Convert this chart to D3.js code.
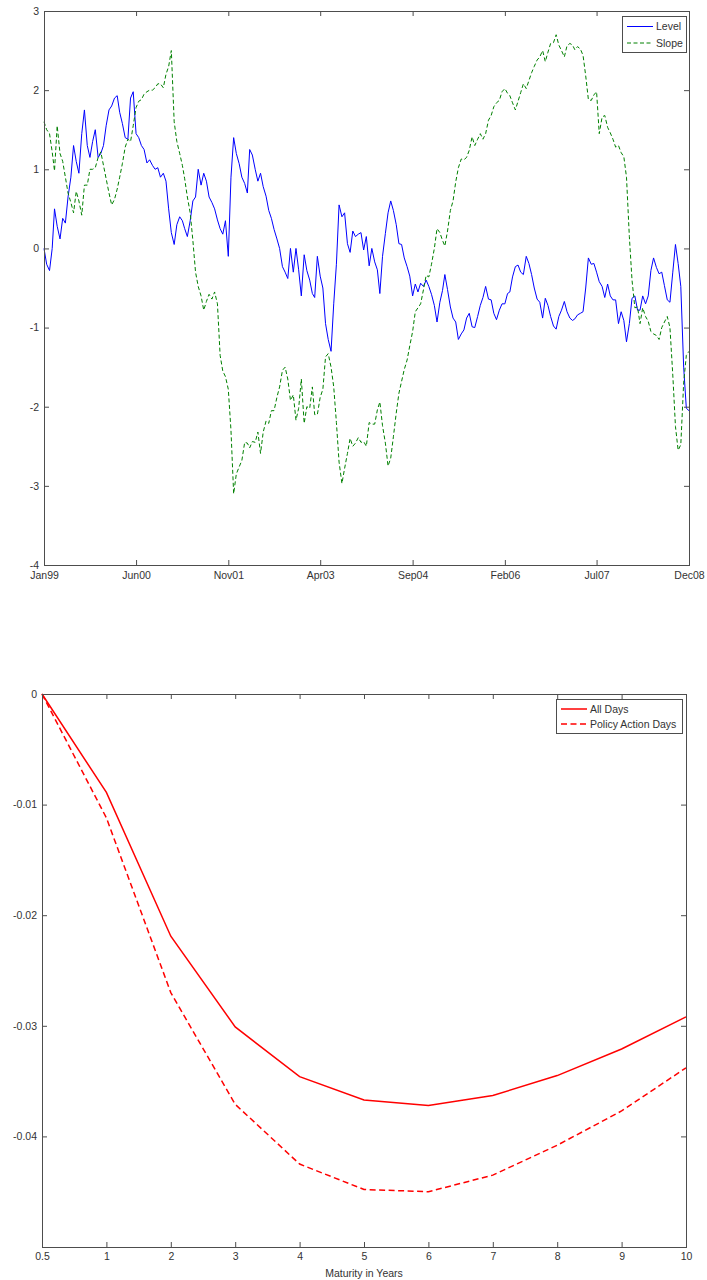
<!DOCTYPE html>
<html>
<head>
<meta charset="utf-8">
<script src="https://cdnjs.cloudflare.com/ajax/libs/d3/7.8.5/d3.min.js"></script>
<style>
  body { margin: 0; background: #fff; }
  svg { display: block; }
  text { font-family: "Liberation Sans", Arial, sans-serif; font-size: 10.5px; fill: #333; }
</style>
</head>
<body>
<svg id="fig" width="707" height="1280"></svg>
<script>
// ---- top panel: factor series, sampled twice a month ----
var dates = [
  "1999-01-01","1999-01-16","1999-02-01","1999-02-16","1999-03-01","1999-03-16","1999-04-01","1999-04-16","1999-05-01","1999-05-16","1999-06-01","1999-06-16","1999-07-01","1999-07-16","1999-08-01","1999-08-16","1999-09-01","1999-09-16","1999-10-01","1999-10-16","1999-11-01","1999-11-16","1999-12-01","1999-12-16",
  "2000-01-01","2000-01-16","2000-02-01","2000-02-16","2000-03-01","2000-03-16","2000-04-01","2000-04-16","2000-05-01","2000-05-16","2000-06-01","2000-06-16","2000-07-01","2000-07-16","2000-08-01","2000-08-16","2000-09-01","2000-09-16","2000-10-01","2000-10-16","2000-11-01","2000-11-16","2000-12-01","2000-12-16",
  "2001-01-01","2001-01-16","2001-02-01","2001-02-16","2001-03-01","2001-03-16","2001-04-01","2001-04-16","2001-05-01","2001-05-16","2001-06-01","2001-06-16","2001-07-01","2001-07-16","2001-08-01","2001-08-16","2001-09-01","2001-09-16","2001-10-01","2001-10-16","2001-11-01","2001-11-16","2001-12-01","2001-12-16",
  "2002-01-01","2002-01-16","2002-02-01","2002-02-16","2002-03-01","2002-03-16","2002-04-01","2002-04-16","2002-05-01","2002-05-16","2002-06-01","2002-06-16","2002-07-01","2002-07-16","2002-08-01","2002-08-16","2002-09-01","2002-09-16","2002-10-01","2002-10-16","2002-11-01","2002-11-16","2002-12-01","2002-12-16",
  "2003-01-01","2003-01-16","2003-02-01","2003-02-16","2003-03-01","2003-03-16","2003-04-01","2003-04-16","2003-05-01","2003-05-16","2003-06-01","2003-06-16","2003-07-01","2003-07-16","2003-08-01","2003-08-16","2003-09-01","2003-09-16","2003-10-01","2003-10-16","2003-11-01","2003-11-16","2003-12-01","2003-12-16",
  "2004-01-01","2004-01-16","2004-02-01","2004-02-16","2004-03-01","2004-03-16","2004-04-01","2004-04-16","2004-05-01","2004-05-16","2004-06-01","2004-06-16","2004-07-01","2004-07-16","2004-08-01","2004-08-16","2004-09-01","2004-09-16","2004-10-01","2004-10-16","2004-11-01","2004-11-16","2004-12-01","2004-12-16",
  "2005-01-01","2005-01-16","2005-02-01","2005-02-16","2005-03-01","2005-03-16","2005-04-01","2005-04-16","2005-05-01","2005-05-16","2005-06-01","2005-06-16","2005-07-01","2005-07-16","2005-08-01","2005-08-16","2005-09-01","2005-09-16","2005-10-01","2005-10-16","2005-11-01","2005-11-16","2005-12-01","2005-12-16",
  "2006-01-01","2006-01-16","2006-02-01","2006-02-16","2006-03-01","2006-03-16","2006-04-01","2006-04-16","2006-05-01","2006-05-16","2006-06-01","2006-06-16","2006-07-01","2006-07-16","2006-08-01","2006-08-16","2006-09-01","2006-09-16","2006-10-01","2006-10-16","2006-11-01","2006-11-16","2006-12-01","2006-12-16",
  "2007-01-01","2007-01-16","2007-02-01","2007-02-16","2007-03-01","2007-03-16","2007-04-01","2007-04-16","2007-05-01","2007-05-16","2007-06-01","2007-06-16","2007-07-01","2007-07-16","2007-08-01","2007-08-16","2007-09-01","2007-09-16","2007-10-01","2007-10-16","2007-11-01","2007-11-16","2007-12-01","2007-12-16",
  "2008-01-01","2008-01-16","2008-02-01","2008-02-16","2008-03-01","2008-03-16","2008-04-01","2008-04-16","2008-05-01","2008-05-16","2008-06-01","2008-06-16","2008-07-01","2008-07-16","2008-08-01","2008-08-16","2008-09-01","2008-09-16","2008-10-01","2008-10-16","2008-11-01","2008-11-16","2008-12-01"
];

var level = [
  0.0,-0.2,-0.28,0.0,0.5,0.28,0.12,0.38,0.32,0.65,0.9,1.3,1.1,0.95,1.45,1.75,1.3,1.15,1.35,1.5,1.15,1.2,1.3,1.55,
  1.75,1.8,1.9,1.93,1.72,1.58,1.4,1.38,1.9,1.98,1.45,1.4,1.3,1.25,1.08,1.12,1.05,1.0,1.02,0.9,0.95,0.85,0.5,0.2,
  0.05,0.3,0.4,0.35,0.25,0.15,0.35,0.6,0.65,1.0,0.8,0.95,0.85,0.65,0.58,0.5,0.36,0.25,0.18,0.35,-0.1,0.9,1.4,1.2,
  1.07,0.9,0.82,0.7,1.25,1.18,1.0,0.85,0.95,0.78,0.66,0.48,0.38,0.24,0.12,0.0,-0.23,-0.3,-0.38,0.0,-0.3,0.0,-0.27,-0.6,
  -0.08,-0.28,-0.4,-0.57,-0.62,-0.1,-0.35,-0.5,-0.95,-1.15,-1.3,-0.7,-0.2,0.55,0.4,0.45,0.06,-0.05,0.22,0.15,0.18,0.2,-0.02,0.15,
  -0.22,0.0,-0.17,-0.27,-0.57,-0.1,0.19,0.45,0.6,0.48,0.3,0.06,0.05,-0.12,-0.23,-0.35,-0.6,-0.45,-0.55,-0.44,-0.48,-0.4,-0.48,-0.58,
  -0.72,-0.93,-0.68,-0.53,-0.33,-0.52,-0.74,-0.88,-0.93,-1.15,-1.08,-1.03,-0.88,-0.82,-0.99,-1.0,-0.86,-0.72,-0.62,-0.48,-0.64,-0.65,-0.82,-0.9,
  -0.78,-0.7,-0.7,-0.57,-0.55,-0.36,-0.23,-0.21,-0.3,-0.33,-0.1,-0.19,-0.33,-0.5,-0.64,-0.68,-0.88,-0.63,-0.72,-0.86,-0.98,-1.02,-0.86,-0.78,
  -0.67,-0.8,-0.88,-0.91,-0.89,-0.84,-0.82,-0.8,-0.5,-0.12,-0.2,-0.19,-0.3,-0.42,-0.48,-0.62,-0.45,-0.6,-0.65,-0.65,-0.95,-0.8,-0.91,-1.18,
  -0.95,-0.63,-0.6,-0.78,-0.78,-0.6,-0.7,-0.6,-0.28,-0.12,-0.24,-0.32,-0.3,-0.47,-0.65,-0.68,-0.3,0.05,-0.19,-0.48,-1.5,-2.02,-2.05
];

var slope = [
  1.6,1.5,1.45,1.22,0.98,1.55,1.2,1.1,0.9,0.7,0.58,0.45,0.72,0.6,0.42,0.8,0.8,1.0,1.0,1.02,1.15,1.22,1.05,0.88,
  0.7,0.55,0.62,0.75,0.9,1.07,1.28,1.38,1.35,1.55,1.78,1.86,1.88,1.95,1.98,2.0,2.0,2.03,2.08,2.08,2.03,2.2,2.3,2.5,
  1.6,1.35,1.2,1.05,0.88,0.65,0.45,0.1,-0.3,-0.48,-0.6,-0.78,-0.67,-0.58,-0.64,-0.55,-0.7,-1.35,-1.55,-1.62,-1.78,-2.3,-3.1,-2.85,
  -2.76,-2.68,-2.45,-2.46,-2.52,-2.44,-2.45,-2.32,-2.59,-2.32,-2.18,-2.21,-2.05,-2.05,-1.88,-1.75,-1.54,-1.5,-1.65,-1.92,-1.85,-2.17,-2.02,-1.65,
  -2.21,-2.0,-2.02,-1.75,-2.1,-2.1,-1.88,-1.78,-1.37,-1.33,-1.5,-1.75,-2.2,-2.7,-2.97,-2.78,-2.59,-2.4,-2.5,-2.46,-2.39,-2.45,-2.44,-2.5,
  -2.2,-2.22,-2.22,-2.04,-1.94,-2.24,-2.46,-2.75,-2.65,-2.38,-2.08,-1.83,-1.68,-1.53,-1.41,-1.23,-1.05,-0.8,-0.75,-0.7,-0.52,-0.34,-0.36,-0.2,
  0.0,0.25,0.2,0.1,0.03,0.22,0.48,0.6,0.84,1.02,1.13,1.12,1.15,1.24,1.41,1.3,1.38,1.45,1.38,1.45,1.62,1.68,1.79,1.84,
  1.87,1.98,2.02,1.96,1.93,1.84,1.75,1.86,1.97,2.08,2.02,2.12,2.22,2.3,2.38,2.42,2.5,2.36,2.48,2.59,2.6,2.7,2.57,2.5,
  2.42,2.56,2.59,2.57,2.51,2.55,2.52,2.44,2.18,1.88,1.87,1.94,1.98,1.45,1.66,1.68,1.53,1.46,1.38,1.28,1.3,1.21,1.16,0.9,
  0.15,-0.4,-0.75,-0.74,-0.95,-0.75,-0.86,-0.92,-1.05,-1.08,-1.1,-1.15,-1.0,-0.93,-0.86,-1.0,-1.6,-2.25,-2.55,-2.48,-1.7,-1.35,-1.3
];

var dateTicks = ["1999-01-01","2000-06-01","2001-11-01","2003-04-01","2004-09-01","2006-02-01","2007-07-01","2008-12-01"];
var factorTicks = [-4,-3,-2,-1,0,1,2,3];

// ---- bottom panel: yield response by maturity ----
var maturities = [0.5,1,2,3,4,5,6,7,8,9,10];
var allDays    = [0,-0.0089,-0.0219,-0.0301,-0.0346,-0.0367,-0.0372,-0.0363,-0.0345,-0.0321,-0.0292];
var policyDays = [0,-0.0112,-0.0270,-0.0371,-0.0425,-0.0448,-0.0450,-0.0435,-0.0408,-0.0377,-0.0338];
var responseTicks = [0,-0.01,-0.02,-0.03,-0.04];

var svg = d3.select('#fig'),
    TICK = 5,
    frameColor = '#4d4d4d',
    parse = d3.timeParse('%Y-%m-%d')

// box with inward ticks on all four sides, like a matlab axes
function drawFrame(g, x, y, box, xticks, yticks, xfmt, xpad) {
    g.append('g')
        .attr('transform', 'translate(0,' + box.bottom + ')')
        .call(d3.axisBottom(x).tickValues(xticks).tickFormat(xfmt)
            .tickSizeInner(-TICK).tickSizeOuter(0).tickPadding(xpad))
    g.append('g')
        .attr('transform', 'translate(0,' + box.top + ')')
        .call(d3.axisTop(x).tickValues(xticks).tickFormat('')
            .tickSizeInner(-TICK).tickSizeOuter(0))
    g.append('g')
        .attr('transform', 'translate(' + box.left + ',0)')
        .call(d3.axisLeft(y).tickValues(yticks).tickFormat(d => String(d))
            .tickSizeInner(-TICK).tickSizeOuter(0).tickPadding(5))
    g.append('g')
        .attr('transform', 'translate(' + box.right + ',0)')
        .call(d3.axisRight(y).tickValues(yticks).tickFormat('')
            .tickSizeInner(-TICK).tickSizeOuter(0))

    g.selectAll('.domain').remove()
    g.selectAll('.tick line').attr('stroke', frameColor)

    g.append('rect')
        .attr('x', box.left + 0.5)
        .attr('y', box.top + 0.5)
        .attr('width', box.right - box.left)
        .attr('height', box.bottom - box.top)
        .attr('fill', 'none')
        .attr('stroke', frameColor)
}

function drawLegend(g, box, items) {
    var lg = g.append('g').attr('transform', 'translate(' + box.x + ',' + box.y + ')')
    lg.append('rect')
        .attr('x', 0.5).attr('y', 0.5)
        .attr('width', box.w).attr('height', box.h)
        .attr('fill', '#fff')
        .attr('stroke', frameColor)
    items.forEach((it, i) => {
        var cy = box.pad + i * box.step
        lg.append('line')
            .attr('x1', 5).attr('x2', 5 + box.sample)
            .attr('y1', cy).attr('y2', cy)
            .attr('stroke', it.color)
            .attr('stroke-width', it.width)
            .attr('stroke-dasharray', it.dash)
        lg.append('text')
            .attr('x', 8 + box.sample)
            .attr('y', cy)
            .attr('dy', '0.35em')
            .text(it.label)
    })
}

// ---------- top chart ----------
var topBox = { left: 44, right: 689, top: 11, bottom: 565 }
var topSeries = dates.map((d, i) => ({ date: parse(d), level: level[i], slope: slope[i] }))

var xTime = d3.scaleTime()
    .domain([parse(dates[0]), parse(dates[dates.length - 1])])
    .range([topBox.left, topBox.right])
var yFactor = d3.scaleLinear().domain([-4, 3]).range([topBox.bottom, topBox.top])

var topChart = svg.append('g').attr('id', 'factors')

topChart.append('path')
    .datum(topSeries)
    .attr('fill', 'none')
    .attr('stroke', '#0000ff')
    .attr('stroke-width', 1)
    .attr('d', d3.line().x(d => xTime(d.date)).y(d => yFactor(d.level)))

topChart.append('path')
    .datum(topSeries)
    .attr('fill', 'none')
    .attr('stroke', '#008000')
    .attr('stroke-width', 1)
    .attr('stroke-dasharray', '4,2.5')
    .attr('d', d3.line().x(d => xTime(d.date)).y(d => yFactor(d.slope)))

drawFrame(topChart, xTime, yFactor, topBox, dateTicks.map(parse), factorTicks, d3.timeFormat('%b%y'), 7)

drawLegend(topChart, { x: 622, y: 16, w: 64, h: 36, pad: 10.5, step: 16.5, sample: 26 }, [
    { label: 'Level', color: '#0000ff', width: 1, dash: null },
    { label: 'Slope', color: '#008000', width: 1, dash: '4,2.5' }
])

// ---------- bottom chart ----------
// maturities sit at evenly spaced positions (plotted against their index)
var botBox = { left: 42, right: 686, top: 694, bottom: 1247 }
var xMat = d3.scalePoint().domain(maturities).range([botBox.left, botBox.right]).padding(0)
var yResp = d3.scaleLinear().domain([-0.05, 0]).range([botBox.bottom, botBox.top])

var botChart = svg.append('g').attr('id', 'response')
var respLine = d3.line().x(d => xMat(d[0])).y(d => yResp(d[1]))

botChart.append('path')
    .datum(maturities.map((m, i) => [m, allDays[i]]))
    .attr('fill', 'none')
    .attr('stroke', '#ff0000')
    .attr('stroke-width', 1.5)
    .attr('d', respLine)

botChart.append('path')
    .datum(maturities.map((m, i) => [m, policyDays[i]]))
    .attr('fill', 'none')
    .attr('stroke', '#ff0000')
    .attr('stroke-width', 1.5)
    .attr('stroke-dasharray', '6,3.5')
    .attr('d', respLine)

drawFrame(botChart, xMat, yResp, botBox, maturities, responseTicks, d => String(d), 6)

botChart.append('text')
    .attr('x', (botBox.left + botBox.right) / 2)
    .attr('y', 1273)
    .attr('text-anchor', 'middle')
    .attr('dy', '0.35em')
    .text('Maturity in Years')

drawLegend(botChart, { x: 556, y: 699, w: 126, h: 34, pad: 10, step: 15, sample: 26 }, [
    { label: 'All Days', color: '#ff0000', width: 1.5, dash: null },
    { label: 'Policy Action Days', color: '#ff0000', width: 1.5, dash: '6,3.5' }
])
</script>
</body>
</html>
